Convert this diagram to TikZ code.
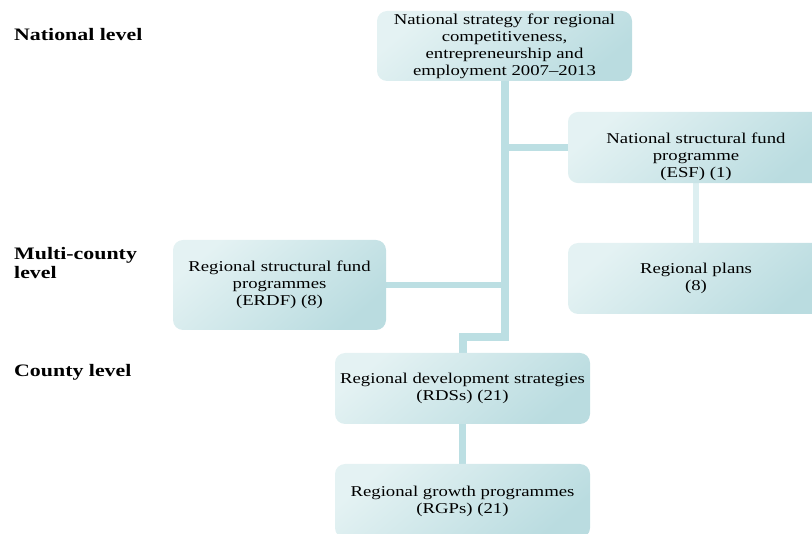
\documentclass[tikz,border=0pt]{standalone}
\usepackage{fontspec}
\setmainfont{Liberation Serif}[FakeStretch=1.25]
\usetikzlibrary{positioning, backgrounds}
\definecolor{boxLight}{HTML}{E4F2F3}
\definecolor{boxMid}{HTML}{DDEFF1}
\definecolor{boxDark}{HTML}{BADCE0}
\definecolor{linkTeal}{HTML}{BCDFE3}
\definecolor{linkPale}{HTML}{DDEFF1}

\begin{document}
\begin{tikzpicture}[
    x=1pt, y=-1pt,
    box/.style={rectangle, rounded corners=10pt, draw=none,
                top color=boxLight, middle color=boxMid, bottom color=boxDark,
                shading angle=40, inner sep=2pt,
                font=\fontsize{15}{17}\selectfont, align=center},
    level/.style={anchor=base west, align=left, inner sep=0pt,
                  font=\fontsize{17.5}{19.5}\selectfont\bfseries},
    link/.style={linkTeal, line width=7pt},
    linkpale/.style={linkPale, line width=6pt},
  ]
    \useasboundingbox (0,0) rectangle (812,534);
    \clip (0,0) rectangle (812,534);

    % levels
    \node[level] (lnat) at (14,41) {National level};
    \node[level] (lmulti) at (14,279) {Multi-county\\level};
    \node[level] (lcounty) at (14,377) {County level};

    % boxes
    \node[box, minimum width=255, minimum height=70] (nat) at (504.5,46)
      {National strategy for regional\\competitiveness,\\entrepreneurship and\\employment 2007--2013};
    \node[box, minimum width=256, minimum height=71] (nsf) at (696,147.5)
      {\rule{0pt}{30pt}National structural fund\\programme\\(ESF) (1)};
    \node[box, minimum width=256, minimum height=71] (rp) at (696,278.5)
      {Regional plans\\(8)};
    \node[box, minimum width=213, minimum height=90] (rsf) at (279.5,285)
      {Regional structural fund\\programmes\\(ERDF) (8)};
    \node[box, minimum width=255, minimum height=71] (rds) at (462.5,388.5)
      {Regional development strategies\\(RDSs) (21)};
    \node[box, minimum width=255, minimum height=74] (rgp) at (462.5,501)
      {Regional growth programmes\\(RGPs) (21)};

    \coordinate (jog) at (504.5,337);

    \begin{scope}[on background layer]
      \draw[link, line width=8pt] (nat.south) -- (jog) -| (rds.north);
      \draw[link] (nat.south |- nsf.west) -- (nsf.west);
      \draw[link, line width=6pt] (rsf.east) -- (rsf.east -| nat.south);
      \draw[linkpale] (nsf.south) -- (rp.north);
      \draw[link] (rds.south) -- (rgp.north);
    \end{scope}
  \end{tikzpicture}
\end{document}
